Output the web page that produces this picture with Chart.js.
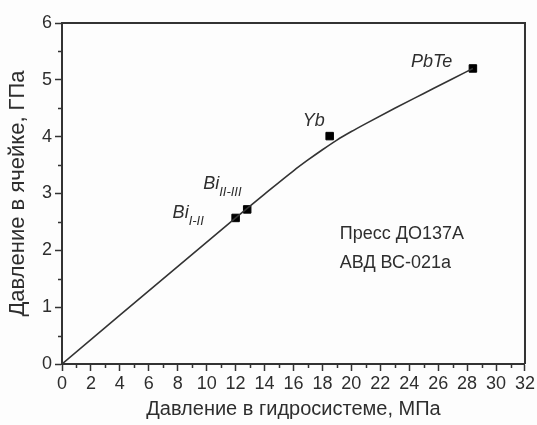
<!DOCTYPE html>
<html>
<head>
<meta charset="utf-8">
<script src="https://cdn.jsdelivr.net/npm/chart.js@4/dist/chart.umd.min.js"></script>
<style>
html,body{margin:0;padding:0;background:#fdfdfd;}
#wrap{width:537px;height:425px;position:relative;}
</style>
</head>
<body>
<div id="wrap"><canvas id="c" width="537" height="425"></canvas></div>
<script>
// Calibration curve (hydraulic pressure, MPa -> cell pressure, GPa)
const curveX = [0, 12, 14, 16, 17, 18, 19, 20, 21, 23, 25, 27, 28.4];
const curveY = [0, 2.57, 2.99, 3.40, 3.59, 3.77, 3.94, 4.09, 4.23, 4.50, 4.76, 5.02, 5.20];
// Reference points (phase transitions)
const pointNames = ['Bi', 'Bi', 'Yb', 'PbTe'];
const pointSubs = ['I-II', 'II-III', '', ''];
const pointX = [12.0, 12.8, 18.5, 28.4];
const pointY = [2.57, 2.72, 4.01, 5.20];
// Axis ticks
const xMin = 0, xMax = 32, xStep = 2;
const yMin = 0, yMax = 6, yStep = 1;
const xTitle = 'Давление в гидросистеме, МПа';
const yTitle = 'Давление в ячейке, ГПа';
const noteLines = ['Пресс ДО137А', 'АВД ВС-021а'];

const FONT = "'Liberation Sans', Arial, sans-serif";
const INK = '#2e2e2e';

const curveData = curveX.map((x, i) => ({x, y: curveY[i]}));
const pointData = pointX.map((x, i) => ({x, y: pointY[i]}));

// label offsets (px) relative to marker
const labelOffsets = [
  {dx: -63, dy: 0, sdy: 7},
  {dx: -44, dy: -20, sdy: 7},
  {dx: -27, dy: -10, sdy: 0},
  {dx: -62, dy: -1, sdy: 0}
];

const decor = {
  id: 'decor',
  afterDraw(chart) {
    const ctx = chart.ctx;
    const a = chart.chartArea;
    const xs = chart.scales.x, ys = chart.scales.y;
    ctx.save();
    // frame
    ctx.strokeStyle = '#333';
    ctx.lineWidth = 2;
    ctx.beginPath();
    ctx.moveTo(a.left, a.top);
    ctx.lineTo(a.right, a.top);
    ctx.lineTo(a.right, a.bottom);
    ctx.stroke();
    // minor ticks
    ctx.lineWidth = 1.5;
    ctx.beginPath();
    for (let v = xMin + xStep / 2; v < xMax; v += xStep) {
      const px = Math.round(xs.getPixelForValue(v)) + 0.5;
      ctx.moveTo(px, a.bottom);
      ctx.lineTo(px, a.bottom + 4);
    }
    for (let v = yMin + yStep / 2; v < yMax; v += yStep) {
      const py = Math.round(ys.getPixelForValue(v)) + 0.5;
      ctx.moveTo(a.left, py);
      ctx.lineTo(a.left - 4, py);
    }
    ctx.stroke();
    // point labels
    ctx.fillStyle = INK;
    ctx.textBaseline = 'alphabetic';
    ctx.textAlign = 'left';
    pointX.forEach((x, i) => {
      const px = xs.getPixelForValue(x), py = ys.getPixelForValue(pointY[i]);
      const o = labelOffsets[i];
      ctx.font = 'italic 18px ' + FONT;
      const tx = px + o.dx, ty = py + o.dy;
      ctx.fillText(pointNames[i], tx, ty);
      if (pointSubs[i]) {
        const w = ctx.measureText(pointNames[i]).width;
        ctx.font = 'italic 13px ' + FONT;
        ctx.fillText(pointSubs[i], tx + w, ty + o.sdy);
      }
    });
    // note
    ctx.font = '18px ' + FONT;
    const nx = xs.getPixelForValue(19.2);
    ctx.fillText(noteLines[0], nx, ys.getPixelForValue(2.2));
    ctx.fillText(noteLines[1], nx, ys.getPixelForValue(1.69));
    ctx.restore();
  }
};

new Chart(document.getElementById('c'), {
  type: 'scatter',
  data: {
    datasets: [
      {data: curveData, showLine: true, borderColor: '#333', borderWidth: 1.6, pointRadius: 0,
       cubicInterpolationMode: 'monotone', fill: false},
      {data: pointData, showLine: false, pointStyle: 'rect', pointRadius: 5.3,
       backgroundColor: '#000', borderColor: '#000', borderWidth: 1}
    ]
  },
  options: {
    responsive: false,
    animation: false,
    layout: {padding: {left: 0, top: 23, right: 12, bottom: 0}},
    plugins: {legend: {display: false}, tooltip: {enabled: false}},
    scales: {
      x: {
        type: 'linear', min: xMin, max: xMax,
        ticks: {stepSize: xStep, font: {family: FONT, size: 18}, color: INK, padding: 2, maxRotation: 0, autoSkip: false},
        grid: {drawOnChartArea: false, drawTicks: true, tickLength: 7, tickWidth: 1.5, tickColor: '#333'},
        border: {display: true, color: '#333', width: 2},
        title: {display: true, text: xTitle, font: {family: FONT, size: 20}, color: INK, padding: {top: 0, bottom: 4}},
        afterFit: s => { s.height = 61; }
      },
      y: {
        type: 'linear', min: yMin, max: yMax,
        ticks: {stepSize: yStep, font: {family: FONT, size: 18}, color: INK, padding: 3},
        grid: {drawOnChartArea: false, drawTicks: true, tickLength: 7, tickWidth: 1.5, tickColor: '#333'},
        border: {display: true, color: '#333', width: 2},
        title: {display: true, text: yTitle, font: {family: FONT, size: 22}, color: INK, padding: {top: 5, bottom: 0}},
        afterFit: s => { s.width = 62; }
      }
    }
  },
  plugins: [decor]
});
</script>
</body>
</html>
